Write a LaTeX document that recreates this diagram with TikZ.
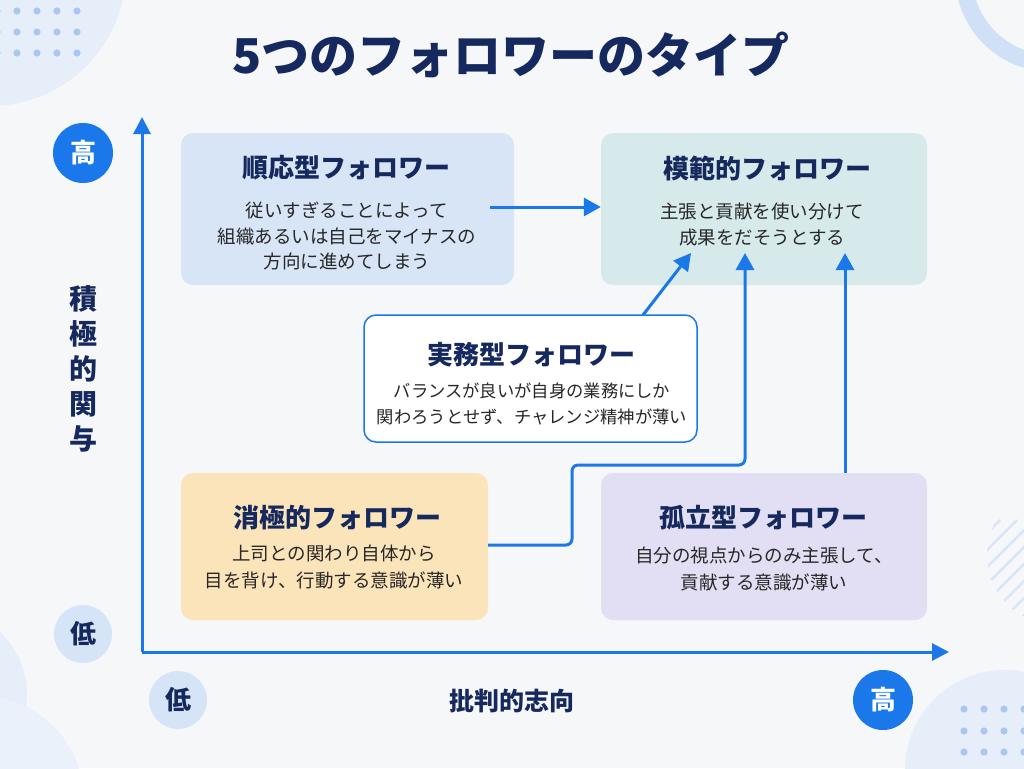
\documentclass[tikz,border=0pt]{standalone}
\usepackage{fontspec}
\setmainfont{Noto Sans CJK JP}
\usepackage{tikz}
\usetikzlibrary{arrows.meta}
\definecolor{bgcolor}{HTML}{F6F7F9}
\definecolor{navy}{HTML}{15295E}
\definecolor{flowblue}{HTML}{1A78EA}
\definecolor{bodygray}{HTML}{272727}
\definecolor{decofill}{HTML}{E6EEF9}
\definecolor{dotblue}{HTML}{A9C8F1}
\definecolor{ringblue}{HTML}{CFE0F7}
\definecolor{lowfill}{HTML}{D5E5F7}
\definecolor{conformfill}{HTML}{D7E5F6}
\definecolor{exemplaryfill}{HTML}{D6EAEB}
\definecolor{passivefill}{HTML}{FCE4BA}
\definecolor{alienatedfill}{HTML}{E2DEF3}
\tikzstyle{Box}=[rounded corners=12pt, inner sep=0pt, draw=none]
\tikzstyle{Conform}=[style=Box, fill=conformfill, minimum width=333pt, minimum height=152pt]
\tikzstyle{Exemplary}=[style=Box, fill=exemplaryfill, minimum width=326pt, minimum height=152pt]
\tikzstyle{Pragmatic}=[style=Box, fill=white, draw=flowblue, line width=1.5pt, minimum width=333pt, minimum height=127pt]
\tikzstyle{Passive}=[style=Box, fill=passivefill, minimum width=307pt, minimum height=147pt]
\tikzstyle{Alienated}=[style=Box, fill=alienatedfill, minimum width=326pt, minimum height=147pt]
\tikzstyle{BoxTitle}=[inner sep=0pt, text=navy, font=\fontsize{26}{30}\selectfont\bfseries]
\tikzstyle{BoxText}=[inner sep=0pt, text=bodygray, align=center]
\tikzstyle{High}=[circle, fill=flowblue, text=white, minimum size=60pt, inner sep=0pt, font=\fontsize{26}{30}\selectfont\bfseries]
\tikzstyle{Low}=[circle, fill=lowfill, text=navy, minimum size=58pt, inner sep=0pt, font=\fontsize{26}{30}\selectfont\bfseries]
\tikzstyle{arrow}=[line width=3pt, draw=flowblue, -{Triangle[length=17pt, width=18pt]}]
\tikzstyle{axis}=[line width=3pt, draw=flowblue, -{Triangle[length=17pt, width=17pt]}]
\tikzstyle{hatch}=[line width=2.5pt, draw=ringblue!80]
\pgfdeclarelayer{decolayer}
\pgfdeclarelayer{nodelayer}
\pgfdeclarelayer{edgelayer}
\pgfsetlayers{decolayer, nodelayer, edgelayer, main}
\begin{document}
\begin{tikzpicture}[x=1pt, y=-1pt]
	\useasboundingbox (0,0) rectangle (1024,768);
	\begin{pgfonlayer}{decolayer}
		% background
		\fill [bgcolor] (0,0) rectangle (1024,768);
		% corner decorations
		\fill [decofill] (-10,-30) circle (136pt);
		\foreach \x in {-3,17,37,57,77} \foreach \y in {11,32,53} \fill [dotblue] (\x,\y) circle (3.6pt);
		\draw [ringblue, line width=17pt] (1052,-25) circle (88.5pt);
		\fill [decofill] (-60,695) circle (87pt);
		\fill [decofill!80] (-20,800) circle (104pt);
		\fill [decofill] (1005,770) circle (100pt);
		\foreach \x in {964,984,1004,1024} \foreach \y in {709,731,752} \fill [dotblue] (\x,\y) circle (3.6pt);
		\begin{scope}
			\clip (1057,555) circle (70pt);
			\foreach \i in {0,17,...,340} \draw [style=hatch] (800+\i,720) -- (1000+\i,520);
		\end{scope}
	\end{pgfonlayer}
	\begin{pgfonlayer}{nodelayer}
		% title
		\node [inner sep=0pt, text=navy, font=\fontsize{48}{52}\selectfont\bfseries] (title) at (511,55) {5つのフォロワーのタイプ};
		% boxes
		\node [style=Conform] (conform) at (347.5,209) {};
		\node [style=Exemplary] (exemplary) at (764,209) {};
		\node [style=Pragmatic] (pragmatic) at (530.5,378.5) {};
		\node [style=Passive] (passive) at (334.5,546.5) {};
		\node [style=Alienated] (alienated) at (764,546.5) {};
		% box texts
		\node [style=BoxTitle] (conform_title) at (346,168) {順応型フォロワー};
		\node [style=BoxText, font=\fontsize{18.5}{25.5}\selectfont] (conform_text) at (347,236) {従いすぎることによって\\組織あるいは自己をマイナスの\\方向に進めてしまう};
		\node [style=BoxTitle] (exemplary_title) at (767,168) {模範的フォロワー};
		\node [style=BoxText, font=\fontsize{18.5}{26}\selectfont] (exemplary_text) at (762,225) {主張と貢献を使い分けて\\成果をだそうとする};
		\node [style=BoxTitle] (pragmatic_title) at (531,355) {実務型フォロワー};
		\node [style=BoxText, font=\fontsize{17.3}{25.5}\selectfont] (pragmatic_text) at (532,404) {バランスが良いが自身の業務にしか\\関わろうとせず、チャレンジ精神が薄い};
		\node [style=BoxTitle] (passive_title) at (337,518) {消極的フォロワー};
		\node [style=BoxText, font=\fontsize{18.5}{27}\selectfont] (passive_text) at (334,567) {上司との関わり自体から\\目を背け、行動する意識が薄い};
		\node [style=BoxTitle] (alienated_title) at (763,518) {孤立型フォロワー};
		\node [style=BoxText, font=\fontsize{18.5}{27}\selectfont] (alienated_text) at (764,569) {自分の視点からのみ主張して、\\貢献する意識が薄い};
		% axis labels
		\node [style=High] (y_high) at (83,153) {高};
		\node [style=Low] (y_low) at (83,634) {低};
		\node [style=Low] (x_low) at (178,700) {低};
		\node [style=High] (x_high) at (883,700) {高};
		\node [inner sep=0pt, text=navy, align=center, font=\fontsize{28}{35}\selectfont\bfseries] (y_label) at (83,369) {積\\極\\的\\関\\与};
		\node [inner sep=0pt, text=navy, font=\fontsize{25}{30}\selectfont\bfseries] (x_label) at (512,701) {批判的志向};
	\end{pgfonlayer}
	\begin{pgfonlayer}{edgelayer}
		% axes
		\coordinate (origin) at (142,652);
		\coordinate (y_end) at (142,117);
		\coordinate (x_end) at (949,652);
		\draw [style=axis] (origin) to (y_end);
		\draw [style=axis] (origin) to (x_end);
		% flows into the exemplary box
		\coordinate (conform_out) at (490,207);
		\coordinate (pragmatic_out) at (643,315);
		\coordinate (pragmatic_in) at (691,253);
		\coordinate (passive_in) at (745,253);
		\coordinate (alienated_in) at (845,253);
		\draw [style=arrow] (conform_out) to (conform_out -| exemplary.west);
		\draw [style=arrow] (pragmatic_out) to (pragmatic_in);
		\draw [style=arrow, rounded corners=6pt] (passive.east |- 0,545) -- (572,545) -- (572,465) -- (745,465) -- (passive_in);
		\draw [style=arrow] (alienated.north -| alienated_in) to (alienated_in);
	\end{pgfonlayer}
\end{tikzpicture}
\end{document}
